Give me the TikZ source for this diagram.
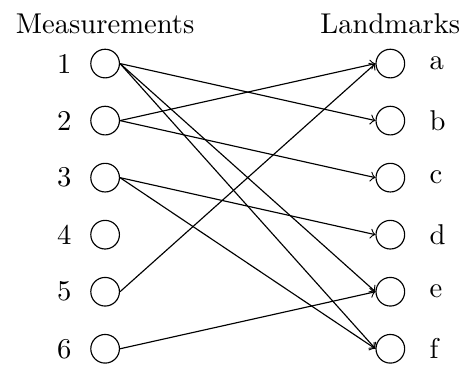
\documentclass[tikz,border=0pt]{standalone}
\usepackage{tikz}
\usetikzlibrary{positioning}
\tikzset{
  vertex/.style={circle,draw,minimum size=10pt,inner sep=0pt},
  meas/.style={vertex,label={[label distance=3pt]left:#1}},
  lmark/.style={vertex,label={[label distance=5pt]right:#1}},
  assoc/.style={->}
}
\begin{document}
\begin{tikzpicture}
  \useasboundingbox (-1.29,0.78) rectangle (4.49,-3.72);
  % measurements
  \node[meas=1] (m1) at (0,0) {};
  \node[meas=2] (m2) at (0,-0.7) {};
  \node[meas=3] (m3) at (0,-1.4) {};
  \node[meas=4] (m4) at (0,-2.1) {};
  \node[meas=5] (m5) at (0,-2.8) {};
  \node[meas=6] (m6) at (0,-3.5) {};
  % landmarks
  \node[lmark=a] (la) at (3.5,0) {};
  \node[lmark=b] (lb) at (3.5,-0.7) {};
  \node[lmark=c] (lc) at (3.5,-1.4) {};
  \node[lmark=d] (ld) at (3.5,-2.1) {};
  \node[lmark=e] (le) at (3.5,-2.8) {};
  \node[lmark=f] (lf) at (3.5,-3.5) {};
  \node[above=1.5pt of m1] (mtitle) {Measurements};
  \node[above=1.5pt of la] (ltitle) {Landmarks};
  % associations
  \draw[assoc] (m1.east) -- (lb.west);
  \draw[assoc] (m1.east) -- (le.west);
  \draw[assoc] (m1.east) -- (lf.west);
  \draw[assoc] (m2.east) -- (la.west);
  \draw[assoc] (m2.east) -- (lc.west);
  \draw[assoc] (m3.east) -- (ld.west);
  \draw[assoc] (m3.east) -- (lf.west);
  \draw[assoc] (m5.east) -- (la.west);
  \draw[assoc] (m6.east) -- (le.west);
\end{tikzpicture}
\end{document}
